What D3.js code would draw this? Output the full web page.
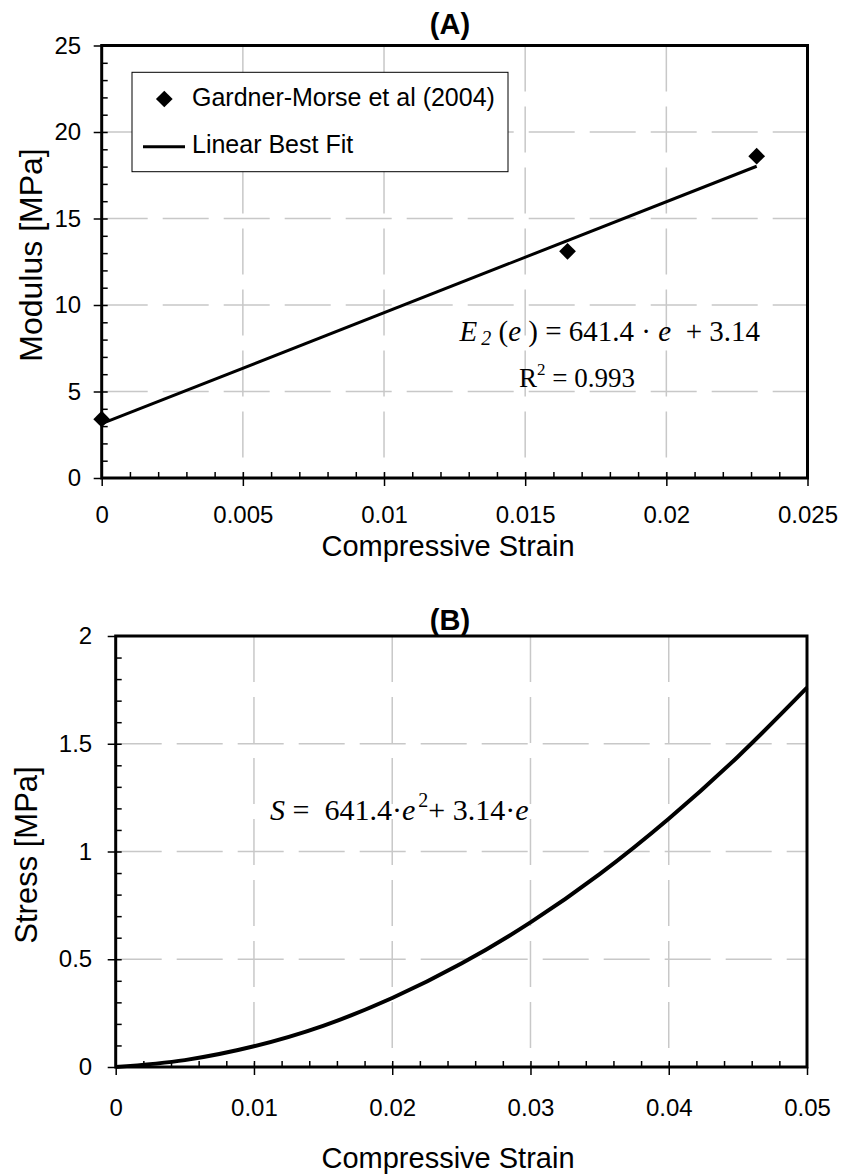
<!DOCTYPE html>
<html>
<head>
<meta charset="utf-8">
<script src="https://cdn.jsdelivr.net/npm/d3@7"></script>
<style>
  body { margin: 0; background: #fff; }
  svg { display: block; font-family: "Liberation Sans", Arial, sans-serif; }
  .grid line { stroke: #c8c8c8; stroke-width: 1.5; stroke-dasharray: 46 15; }
  .tick text { font-size: 24px; fill: #000; }
  .tick line { stroke: #000; stroke-width: 1.5; }
  .eq { font-family: "Liberation Serif", "Times New Roman", serif; white-space: pre; }
</style>
</head>
<body>
<script>
// (A) modulus vs strain
var strainA = [0, 0.0165, 0.0232];
var modulusA = [3.4, 13.1, 18.6];
var fitStrain = [0, 0.0232];
var fitModulus = [3.14, 18.02];
var xTicksA = [0, 0.005, 0.01, 0.015, 0.02, 0.025];
var xLabelsA = ["0", "0.005", "0.01", "0.015", "0.02", "0.025"];
var yTicksA = [0, 5, 10, 15, 20, 25];

// (B) stress vs strain
var strainB = [0, 0.005, 0.01, 0.015, 0.02, 0.025, 0.03, 0.035, 0.04, 0.045, 0.05];
var stressB = [0, 0.032, 0.096, 0.191, 0.32, 0.48, 0.671, 0.895, 1.152, 1.44, 1.76];
var xTicksB = [0, 0.01, 0.02, 0.03, 0.04, 0.05];
var xLabelsB = ["0", "0.01", "0.02", "0.03", "0.04", "0.05"];
var yTicksB = [0, 0.5, 1, 1.5, 2];
var yLabelsB = ["0", "0.5", "1", "1.5", "2"];

var svg = d3.select("body").append("svg")
    .attr("width", 842)
    .attr("height", 1175);

var diamond = d3.symbol().type(d3.symbolSquare).size(140);

function panel(o) {
  var w = o.right - o.left, h = o.bottom - o.top;
  var x = d3.scaleLinear().domain(o.xDomain).range([0, w]);
  var y = d3.scaleLinear().domain(o.yDomain).range([h, 0]);
  var g = svg.append("g").attr("transform", "translate(" + o.left + "," + o.top + ")");

  // grid
  var grid = g.append("g").attr("class", "grid");
  grid.selectAll(".v").data(o.xTicks.slice(1, -1)).enter().append("line")
    .attr("x1", function(d) { return x(d); }).attr("x2", function(d) { return x(d); })
    .attr("y1", 0).attr("y2", h);
  grid.selectAll(".h").data(o.yTicks.slice(1, -1)).enter().append("line")
    .attr("y1", function(d) { return y(d); }).attr("y2", function(d) { return y(d); })
    .attr("x1", 0).attr("x2", w);

  // minor ticks point inward
  g.append("g")
    .call(d3.axisRight(y).tickValues(o.yMinor).tickSize(6).tickFormat(""))
    .call(function(s) { s.select(".domain").remove(); });
  g.append("g").attr("transform", "translate(0," + h + ")")
    .call(d3.axisTop(x).tickValues(o.xMinor).tickSize(6).tickFormat(""))
    .call(function(s) { s.select(".domain").remove(); });

  // major ticks
  g.append("g")
    .call(d3.axisLeft(y).tickValues(o.yTicks).tickSizeInner(8).tickSizeOuter(0)
      .tickPadding(o.yPad).tickFormat(function(d, i) { return o.yLabels[i]; }))
    .call(function(s) { s.select(".domain").remove(); s.selectAll("text").attr("font-family", null); });
  g.append("g").attr("transform", "translate(0," + h + ")")
    .call(d3.axisBottom(x).tickValues(o.xTicks).tickSizeInner(8).tickSizeOuter(0)
      .tickPadding(o.xPad).tickFormat(function(d, i) { return o.xLabels[i]; }))
    .call(function(s) { s.select(".domain").remove(); s.selectAll("text").attr("font-family", null); });

  g.append("rect").attr("width", w).attr("height", h)
    .attr("fill", "none").attr("stroke", "#000").attr("stroke-width", 3);

  // titles
  svg.append("text").attr("x", 450).attr("y", o.titleY).attr("text-anchor", "middle")
    .attr("font-size", 29).attr("font-weight", "bold").text(o.title);
  svg.append("text").attr("x", 448).attr("y", o.xTitleY).attr("text-anchor", "middle")
    .attr("font-size", 29).text("Compressive Strain");
  svg.append("text").attr("transform", "translate(" + o.yTitleX + "," + o.yTitleY + ") rotate(-90)")
    .attr("text-anchor", "middle").attr("font-size", o.yTitleSize).text(o.yTitle);

  return { g: g, x: x, y: y };
}

// ---- panel A ----
var A = panel({
  left: 101.7, right: 807.5, top: 45.5, bottom: 478,
  xDomain: [0, 0.025], yDomain: [0, 25],
  xTicks: xTicksA, xLabels: xLabelsA,
  yTicks: yTicksA, yLabels: yTicksA.map(String),
  xMinor: d3.range(1, 25).map(function(i) { return i * 0.001; }),
  yMinor: d3.range(1, 25).map(function(i) { return i; }),
  xPad: 20, yPad: 12.5,
  title: "(A)", titleY: 34, xTitleY: 556,
  yTitle: "Modulus [MPa]", yTitleX: 42, yTitleY: 255, yTitleSize: 32
});

A.g.append("path")
  .datum(d3.zip(fitStrain, fitModulus))
  .attr("fill", "none").attr("stroke", "#000").attr("stroke-width", 3)
  .attr("d", d3.line().x(function(d) { return A.x(d[0]); }).y(function(d) { return A.y(d[1]); }));

A.g.selectAll(".pt").data(d3.zip(strainA, modulusA)).enter().append("path")
  .attr("d", diamond)
  .attr("transform", function(d) { return "translate(" + A.x(d[0]) + "," + A.y(d[1]) + ") rotate(45)"; })
  .attr("fill", "#000");

// legend
var leg = svg.append("g");
leg.append("rect").attr("x", 132).attr("y", 72.3).attr("width", 376).attr("height", 99.4)
  .attr("fill", "#fff").attr("stroke", "#000").attr("stroke-width", 1);
leg.append("path").attr("d", diamond).attr("transform", "translate(164.3,99) rotate(45)");
leg.append("text").attr("x", 192).attr("y", 106).attr("font-size", 25).text("Gardner-Morse et al (2004)");
leg.append("line").attr("x1", 143).attr("x2", 185).attr("y1", 146.7).attr("y2", 146.7)
  .attr("stroke", "#000").attr("stroke-width", 3);
leg.append("text").attr("x", 192).attr("y", 153).attr("font-size", 25).text("Linear Best Fit");

// fit equation
var eqA = svg.append("text").attr("class", "eq").attr("x", 760).attr("y", 341)
  .attr("text-anchor", "end").attr("font-size", 29);
eqA.append("tspan").attr("font-style", "italic").text("E");
eqA.append("tspan").attr("font-style", "italic").attr("font-size", 20).attr("dx", 4).attr("dy", 4).text("2");
eqA.append("tspan").attr("dy", -4).text(" (");
eqA.append("tspan").attr("font-style", "italic").text("e");
eqA.append("tspan").text(" ) = 641.4 · ");
eqA.append("tspan").attr("font-style", "italic").text("e");
eqA.append("tspan").text("  + 3.14");

var r2 = svg.append("text").attr("class", "eq").attr("x", 519).attr("y", 387).attr("font-size", 27);
r2.append("tspan").text("R");
r2.append("tspan").attr("font-size", 17).attr("dy", -12).text("2");
r2.append("tspan").attr("dy", 12).text(" = 0.993");

// ---- panel B ----
var B = panel({
  left: 115.7, right: 807, top: 636, bottom: 1067,
  xDomain: [0, 0.05], yDomain: [0, 2],
  xTicks: xTicksB, xLabels: xLabelsB,
  yTicks: yTicksB, yLabels: yLabelsB,
  xMinor: d3.range(1, 25).map(function(i) { return i * 0.002; }),
  yMinor: d3.range(1, 20).map(function(i) { return i * 0.1; }),
  xPad: 24, yPad: 15.5,
  title: "(B)", titleY: 630, xTitleY: 1168,
  yTitle: "Stress [MPa]", yTitleX: 37, yTitleY: 855, yTitleSize: 31
});

B.g.append("path")
  .datum(d3.zip(strainB, stressB))
  .attr("fill", "none").attr("stroke", "#000").attr("stroke-width", 4)
  .attr("d", d3.line().curve(d3.curveMonotoneX)
    .x(function(d) { return B.x(d[0]); }).y(function(d) { return B.y(d[1]); }));

var eqB = svg.append("text").attr("class", "eq").attr("x", 270).attr("y", 820).attr("font-size", 30);
eqB.append("tspan").attr("font-style", "italic").text("S");
eqB.append("tspan").text(" =  641.4·");
eqB.append("tspan").attr("font-style", "italic").text("e");
eqB.append("tspan").attr("font-size", 20).attr("dy", -13).attr("dx", 3).text("2");
eqB.append("tspan").attr("dy", 13).text("+ 3.14·");
eqB.append("tspan").attr("font-style", "italic").text("e");
</script>
</body>
</html>
